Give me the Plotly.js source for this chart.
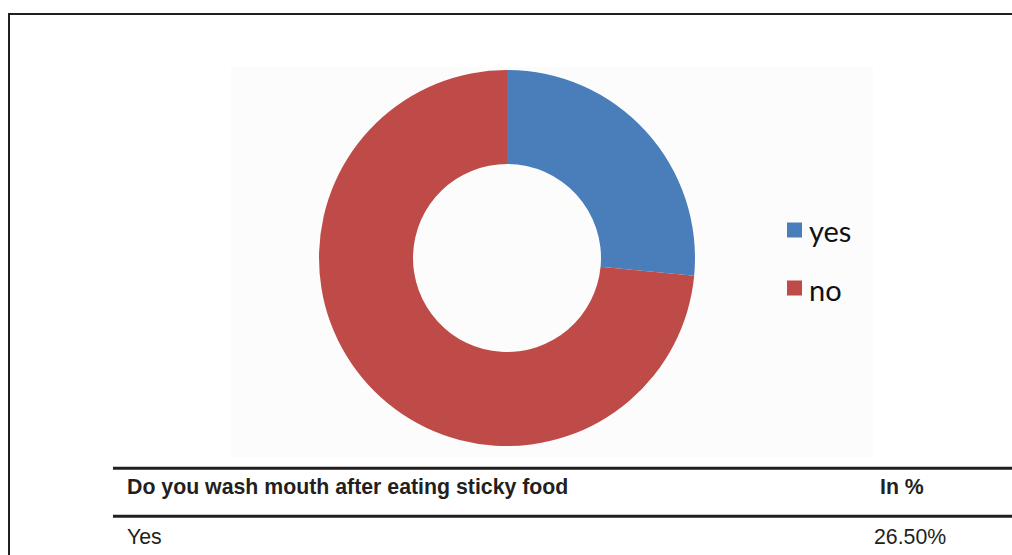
<!DOCTYPE html>
<html>
<head>
<meta charset="utf-8">
<script src="https://cdn.plot.ly/plotly-3.0.1.min.js"></script>
<style>html,body{margin:0;padding:0;background:#fff;}#chart{width:1012px;height:555px;}</style>
</head>
<body>
<div id="chart"></div>
<script>
// ---- data ----
var labels = ["yes", "no"];
var values = [26.5, 73.5];
var colors = ["#4a7ebb", "#be4b48"];
var tableHeader = ["Do you wash mouth after eating sticky food", "In %"];
var tableRowLabels = ["Yes"];
var tableRowValues = ["26.50%"];

// ---- helpers (pixel -> paper) ----
var W = 1012, H = 555;
function px(x) { return x / W; }
function py(y) { return 1 - y / H; }

var shapes = [];
// light grey image background behind the donut
shapes.push({type: "rect", xref: "paper", yref: "paper", layer: "below",
  x0: px(231), x1: px(873), y0: py(457), y1: py(67),
  fillcolor: "#fcfcfc", line: {width: 0}});
// outer frame (left and top)
shapes.push({type: "line", xref: "paper", yref: "paper", x0: px(9), x1: px(9), y0: py(14), y1: py(560), line: {color: "#231f20", width: 2}});
shapes.push({type: "line", xref: "paper", yref: "paper", x0: px(8), x1: px(1020), y0: py(14), y1: py(14), line: {color: "#231f20", width: 2}});
// table rules
shapes.push({type: "line", xref: "paper", yref: "paper", x0: px(113), x1: px(1020), y0: py(468.3), y1: py(468.3), line: {color: "#231f20", width: 3}});
shapes.push({type: "line", xref: "paper", yref: "paper", x0: px(113), x1: px(1020), y0: py(516.3), y1: py(516.3), line: {color: "#231f20", width: 3}});

var annotations = [];
// custom legend
var legX = 787, legY0 = 230, legStep = 58, sq = 15;
for (var i = 0; i < labels.length; i++) {
  var cy = legY0 + i * legStep;
  shapes.push({type: "rect", xref: "paper", yref: "paper",
    x0: px(legX), x1: px(legX + sq), y0: py(cy + sq / 2), y1: py(cy - sq / 2),
    fillcolor: colors[i], line: {width: 0}});
  annotations.push({xref: "paper", yref: "paper", x: px(legX + sq + 5), y: py(cy + 1),
    xanchor: "left", yanchor: "middle", showarrow: false, text: labels[i],
    font: {family: "Lato, sans-serif", size: 29, color: "#111111"}});
}
// table text
var tf = "Liberation Sans, Arial, sans-serif";
annotations.push({xref: "paper", yref: "paper", x: px(125), y: py(487), xanchor: "left", yanchor: "middle",
  showarrow: false, text: "<b>" + tableHeader[0] + "</b>", font: {family: tf, size: 21.3, color: "#231f20"}});
annotations.push({xref: "paper", yref: "paper", x: px(878), y: py(487), xanchor: "left", yanchor: "middle",
  showarrow: false, text: "<b>" + tableHeader[1] + "</b>", font: {family: tf, size: 21.3, color: "#231f20"}});
for (var r = 0; r < tableRowLabels.length; r++) {
  annotations.push({xref: "paper", yref: "paper", x: px(125), y: py(537 + r * 48), xanchor: "left", yanchor: "middle",
    showarrow: false, text: tableRowLabels[r], font: {family: tf, size: 21.3, color: "#231f20"}});
  annotations.push({xref: "paper", yref: "paper", x: px(872), y: py(537 + r * 48), xanchor: "left", yanchor: "middle",
    showarrow: false, text: tableRowValues[r], font: {family: tf, size: 21.3, color: "#231f20"}});
}

var trace = {
  type: "pie",
  labels: labels,
  values: values,
  hole: 0.5,
  sort: false,
  direction: "clockwise",
  rotation: 0,
  textinfo: "none",
  hoverinfo: "label+percent",
  marker: {colors: colors, line: {width: 0}},
  domain: {x: [px(319), px(695)], y: [py(446), py(70)]},
  showlegend: false
};

var layout = {
  width: W, height: H,
  margin: {l: 0, r: 0, t: 0, b: 0},
  paper_bgcolor: "#ffffff",
  showlegend: false,
  shapes: shapes,
  annotations: annotations
};

Plotly.newPlot("chart", [trace], layout, {displayModeBar: false, staticPlot: true});
</script>
</body>
</html>
